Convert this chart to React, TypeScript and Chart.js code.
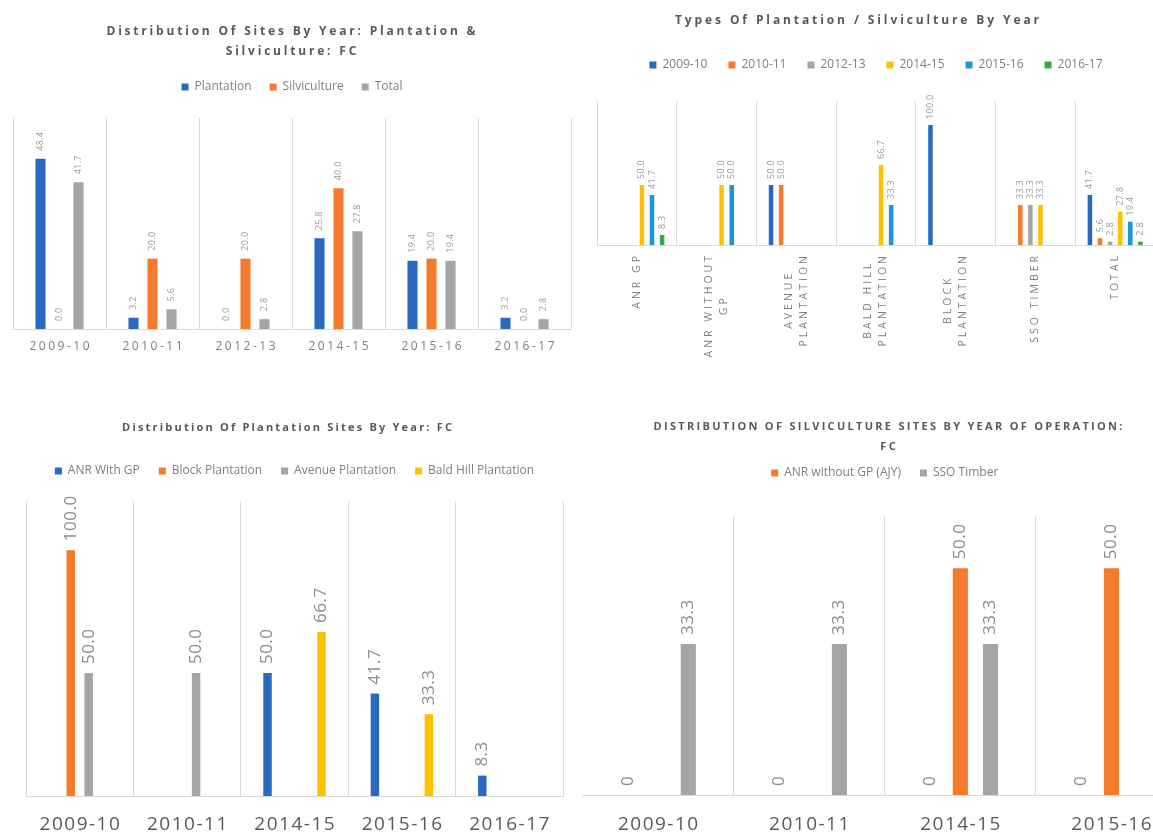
import React, { useEffect, useRef } from 'react';
import { Chart, registerables } from 'chart.js';

Chart.register(...registerables);

const FONT = "'Open Sans', 'DejaVu Sans', sans-serif";
Chart.defaults.font.family = FONT;

// ---------- Chart A: Distribution Of Sites By Year ----------
const yearsA = ['2009-10', '2010-11', '2012-13', '2014-15', '2015-16', '2016-17'];
const plantationA = [48.4, 3.2, 0.0, 25.8, 19.4, 3.2];
const silvicultureA = [0.0, 20.0, 20.0, 40.0, 20.0, 0.0];
const totalA = [41.7, 5.6, 2.8, 27.8, 19.4, 2.8];

// ---------- Chart B: Types Of Plantation / Silviculture By Year ----------
const typesB = [
  ['ANR GP'],
  ['ANR WITHOUT', 'GP'],
  ['AVENUE', 'PLANTATION'],
  ['BALD HILL', 'PLANTATION'],
  ['BLOCK', 'PLANTATION'],
  ['SSO TIMBER'],
  ['TOTAL'],
];
const b2009 = [null, null, 50.0, null, 100.0, null, 41.7];
const b2010 = [null, null, 50.0, null, null, 33.3, 5.6];
const b2012 = [null, null, null, null, null, 33.3, 2.8];
const b2014 = [50.0, 50.0, null, 66.7, null, 33.3, 27.8];
const b2015 = [41.7, 50.0, null, 33.3, null, null, 19.4];
const b2016 = [8.3, null, null, null, null, null, 2.8];

// ---------- Chart C: Distribution Of Plantation Sites By Year ----------
const yearsC = ['2009-10', '2010-11', '2014-15', '2015-16', '2016-17'];
const anrWithGpC = [null, null, 50.0, 41.7, 8.3];
const blockC = [100.0, null, null, null, null];
const avenueC = [50.0, 50.0, null, null, null];
const baldHillC = [null, null, 66.7, 33.3, null];

// ---------- Chart D: Distribution Of Silviculture Sites ----------
const yearsD = ['2009-10', '2010-11', '2014-15', '2015-16'];
const plantationD = [0, 0, 0, 0];
const anrWithoutGpD = [null, null, 50.0, 50.0];
const ssoTimberD = [33.3, 33.3, 33.3, null];

const BLUE = '#2A69C0';
const ORANGE = '#F47B2C';
const GRAY = '#A5A5A5';
const YELLOW = '#FFC000';
const LBLUE = '#1F94DE';
const GREEN = '#33A847';

type DS = { label: string; data: (number | null)[]; color: string; hideLegend?: boolean; decimals?: number };
type Spec = {
  left: number; top: number; width: number; height: number;
  labels: (string | string[])[];
  datasets: DS[];
  yMax: number;
  pad: { left: number; right: number; top: number; bottom: number };
  gap: number;
  legendPad: number; legendFont: number;
  catPct: number; barPct: number;
  leftGrid?: boolean;
  title: { lines: string[]; ys: number[]; size: number; spacing: number; x: number };
  xlab: { size: number; spacing: number; color: string; y: number; rotated?: boolean; offset?: number; lineGap?: number };
  dlab: { size: number; spacing: number; color: string; offset: number };
};

function setSpacing(ctx: any, px: number) {
  try { ctx.letterSpacing = px + 'px'; } catch (e) { /* ignore */ }
}

function makePlugin(spec: Spec) {
  return {
    id: 'customText',
    afterDatasetsDraw(chart: any) {
      const ctx = chart.ctx;
      ctx.save();
      ctx.font = `${spec.dlab.size}px ${FONT}`;
      ctx.fillStyle = spec.dlab.color;
      setSpacing(ctx, spec.dlab.spacing);
      chart.data.datasets.forEach((ds: any, di: number) => {
        const meta = chart.getDatasetMeta(di);
        meta.data.forEach((el: any, i: number) => {
          const v = ds.data[i];
          if (v === null || v === undefined) return;
          const text = Number(v).toFixed(ds.decimals ?? 1);
          ctx.save();
          ctx.translate(el.x, el.y - spec.dlab.offset);
          ctx.rotate(-Math.PI / 2);
          ctx.textAlign = 'left';
          ctx.textBaseline = 'middle';
          ctx.fillText(text, 0, 0);
          ctx.restore();
        });
      });
      ctx.restore();
    },
    afterDraw(chart: any) {
      const ctx = chart.ctx;
      // title
      ctx.save();
      ctx.font = `bold ${spec.title.size}px ${FONT}`;
      ctx.fillStyle = '#595959';
      ctx.textAlign = 'center';
      ctx.textBaseline = 'middle';
      setSpacing(ctx, spec.title.spacing);
      spec.title.lines.forEach((line, i) => {
        ctx.fillText(line, spec.title.x + spec.title.spacing / 2, spec.title.ys[i]);
      });
      ctx.restore();
      // x labels
      const xs = chart.scales.x;
      const area = chart.chartArea;
      ctx.save();
      ctx.font = `${spec.xlab.size}px ${FONT}`;
      ctx.fillStyle = spec.xlab.color;
      ctx.textAlign = 'center';
      ctx.textBaseline = 'middle';
      setSpacing(ctx, spec.xlab.spacing);
      spec.labels.forEach((lab, i) => {
        const x = xs.getPixelForTick(i);
        const lines = Array.isArray(lab) ? lab : [lab];
        if (spec.xlab.rotated) {
          let maxW = 0;
          lines.forEach((l) => { maxW = Math.max(maxW, ctx.measureText(l).width); });
          ctx.save();
          ctx.translate(x, area.bottom + (spec.xlab.offset ?? 8) + maxW / 2);
          ctx.rotate(-Math.PI / 2);
          lines.forEach((l, j) => {
            ctx.fillText(l, 0, (j - (lines.length - 1) / 2) * (spec.xlab.lineGap ?? 14));
          });
          ctx.restore();
        } else {
          ctx.fillText(lines.join(' '), x + spec.xlab.spacing / 2, spec.xlab.y);
        }
      });
      ctx.restore();
    },
  };
}

function buildConfig(spec: Spec): any {
  return {
    type: 'bar',
    data: {
      labels: spec.labels,
      datasets: spec.datasets.map((d) => ({
        label: d.label,
        data: d.data,
        backgroundColor: d.color,
        borderWidth: 0,
        hideLegend: d.hideLegend,
        decimals: d.decimals,
        xAxisID: 'x',
        yAxisID: 'y',
        categoryPercentage: spec.catPct,
        barPercentage: spec.barPct,
      })),
    },
    options: {
      responsive: false,
      maintainAspectRatio: false,
      animation: false,
      layout: { padding: spec.pad },
      plugins: {
        title: { display: false },
        tooltip: { enabled: false },
        legend: {
          display: true,
          position: 'top',
          labels: {
            boxWidth: 7,
            boxHeight: 7,
            padding: spec.legendPad,
            color: '#7F7F7F',
            font: { size: spec.legendFont, family: FONT },
            filter: (item: any, data: any) => !data.datasets[item.datasetIndex].hideLegend,
          },
        },
      },
      scales: {
        x: {
          type: 'category',
          position: 'bottom',
          grid: {
            color: (c: any) => (c.index === 0 && spec.leftGrid === false ? 'rgba(0,0,0,0)' : '#D9D9D9'),
            drawTicks: false,
            offset: true,
          },
          border: { color: '#D9D9D9' },
          ticks: { display: false },
        },
        xTop: {
          type: 'category',
          position: 'top',
          display: true,
          grid: { display: false },
          border: { display: false },
          ticks: { display: false },
          afterFit: (s: any) => { s.height = spec.gap; },
        },
        y: { display: false, min: 0, max: spec.yMax },
      },
    },
    plugins: [makePlugin(spec)],
  };
}

const specA: Spec = {
  left: 0, top: 0, width: 582, height: 370,
  labels: yearsA,
  datasets: [
    { label: 'Plantation', data: plantationA, color: BLUE },
    { label: 'Silviculture', data: silvicultureA, color: ORANGE },
    { label: 'Total', data: totalA, color: GRAY },
  ],
  yMax: 60,
  pad: { left: 13, right: 11, top: 63, bottom: 41 },
  gap: 15,
  legendPad: 18, legendFont: 12,
  catPct: 0.613, barPct: 0.53,
  title: { lines: ['Distribution Of Sites By Year: Plantation &', 'Silviculture: FC'], ys: [32, 52], size: 12, spacing: 2.8, x: 291 },
  xlab: { size: 12, spacing: 2.5, color: '#7F7F7F', y: 347 },
  dlab: { size: 9, spacing: 0.3, color: '#9B9B9B', offset: 8 },
};

const specB: Spec = {
  left: 580, top: 0, width: 580, height: 370,
  labels: typesB,
  datasets: [
    { label: '2009-10', data: b2009, color: BLUE },
    { label: '2010-11', data: b2010, color: ORANGE },
    { label: '2012-13', data: b2012, color: GRAY },
    { label: '2014-15', data: b2014, color: YELLOW },
    { label: '2015-16', data: b2015, color: LBLUE },
    { label: '2016-17', data: b2016, color: GREEN },
  ],
  yMax: 120,
  pad: { left: 17, right: 5, top: 38, bottom: 125 },
  gap: 20,
  legendPad: 21, legendFont: 12,
  catPct: 0.76, barPct: 0.45,
  title: { lines: ['Types Of Plantation / Silviculture By Year'], ys: [21], size: 12, spacing: 2.9, x: 277 },
  xlab: { size: 10.5, spacing: 3, color: '#7F7F7F', y: 0, rotated: true, offset: 8, lineGap: 15 },
  dlab: { size: 9, spacing: 0.3, color: '#9B9B9B', offset: 6 },
};

const specC: Spec = {
  left: 0, top: 400, width: 582, height: 437,
  labels: yearsC,
  datasets: [
    { label: 'ANR With GP', data: anrWithGpC, color: BLUE },
    { label: 'Block Plantation', data: blockC, color: ORANGE },
    { label: 'Avenue Plantation', data: avenueC, color: GRAY },
    { label: 'Bald Hill Plantation', data: baldHillC, color: YELLOW },
  ],
  yMax: 120,
  pad: { left: 26, right: 19, top: 46, bottom: 41 },
  gap: 14,
  legendPad: 19, legendFont: 12,
  catPct: 0.67, barPct: 0.47,
  title: { lines: ['Distribution Of Plantation Sites By Year: FC'], ys: [28], size: 11, spacing: 2.2, x: 287 },
  xlab: { size: 19, spacing: 1.5, color: '#595959', y: 425 },
  dlab: { size: 17, spacing: 0.5, color: '#8C8C8C', offset: 9 },
};

const specD: Spec = {
  left: 580, top: 400, width: 610, height: 437,
  labels: yearsD,
  datasets: [
    { label: 'Plantation', data: plantationD, color: BLUE, hideLegend: true, decimals: 0 },
    { label: 'ANR without GP (AJY)', data: anrWithoutGpD, color: ORANGE },
    { label: 'SSO Timber', data: ssoTimberD, color: GRAY },
  ],
  yMax: 61.5,
  pad: { left: 2.5, right: 3, top: 48, bottom: 42 },
  gap: 27,
  legendPad: 19, legendFont: 12,
  catPct: 0.6, barPct: 0.5,
  leftGrid: false,
  title: { lines: ['DISTRIBUTION OF SILVICULTURE SITES BY YEAR OF OPERATION:', 'FC'], ys: [27, 47], size: 11, spacing: 2.3, x: 308 },
  xlab: { size: 19, spacing: 1.5, color: '#595959', y: 425 },
  dlab: { size: 17, spacing: 0.5, color: '#8C8C8C', offset: 9 },
};

function ChartPanel({ spec }: { spec: Spec }) {
  const ref = useRef<HTMLCanvasElement>(null);
  useEffect(() => {
    const chart = new Chart(ref.current as HTMLCanvasElement, buildConfig(spec));
    return () => chart.destroy();
  }, []);
  return (
    <canvas
      ref={ref}
      width={spec.width}
      height={spec.height}
      style={{ position: 'absolute', left: spec.left, top: spec.top, width: spec.width, height: spec.height }}
    />
  );
}

export default function App() {
  return (
    <div style={{ position: 'fixed', left: 0, top: 0, width: 1153, height: 837, overflow: 'hidden', background: '#FFFFFF' }}>
      <ChartPanel spec={specA} />
      <ChartPanel spec={specB} />
      <ChartPanel spec={specC} />
      <ChartPanel spec={specD} />
    </div>
  );
}
